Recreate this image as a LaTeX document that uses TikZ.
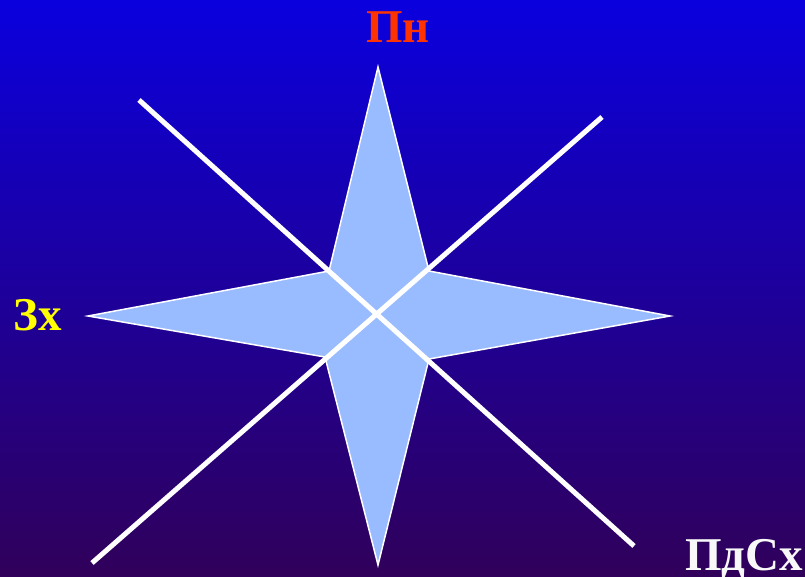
\documentclass[tikz,border=0pt]{standalone}
\usepackage{fontspec}
\setmainfont{Liberation Serif}
\definecolor{bgtop}{RGB}{10,0,222}
\definecolor{bgbot}{RGB}{48,0,90}
\definecolor{starfill}{RGB}{153,187,255}
\definecolor{lblred}{RGB}{255,51,0}
\definecolor{lblyellow}{RGB}{255,255,0}
\definecolor{lblwhite}{RGB}{248,248,248}
\tikzset{
  lbl/.style={anchor=base west, inner sep=0pt, font=\fontsize{47}{50}\selectfont\bfseries},
  starshape/.style={fill=starfill, draw=white, line width=1.5pt, line join=miter},
  axis/.style={draw=white, line width=5pt}
}
\begin{document}
\begin{tikzpicture}[x=1pt,y=-1pt]
\useasboundingbox (0,0) rectangle (805,576);
\shade[top color=bgtop, bottom color=bgbot] (0,0) rectangle (805,576);
% star
\coordinate (c) at (377,314);
\path[starshape] (378,67) -- (429,271) -- (670,316) -- (429,359) -- (378,565) -- (325,357) -- (88,316) -- (329,271) -- cycle;
% crossing lines
\coordinate (a1) at (139,100);
\coordinate (a2) at (634,546);
\coordinate (b1) at (602,117);
\coordinate (b2) at (92,563);
\draw[axis] (a1) -- (a2);
\draw[axis] (b1) -- (b2);
% labels
\node[lbl, text=lblred] (pn) at (366,42) {Пн};
\node[lbl, text=lblyellow] (zx) at (13,330) {Зх};
\node[lbl, text=lblwhite] (pdsx) at (685,570) {ПдСх};
\end{tikzpicture}
\end{document}
